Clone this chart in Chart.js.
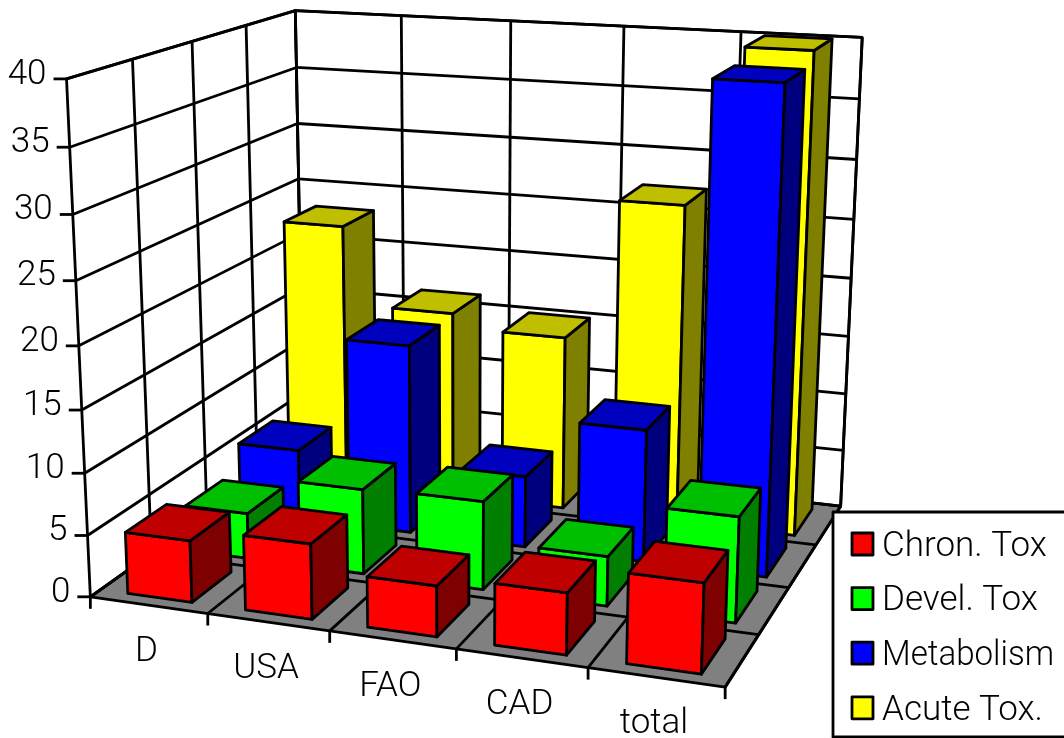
<!DOCTYPE html>
<html>
<head>
<meta charset="utf-8">
<style>
  html, body { margin: 0; padding: 0; background: #fff; }
  #wrap { width: 1064px; height: 738px; }
</style>
<script src="https://cdn.jsdelivr.net/npm/chart.js@4/dist/chart.umd.min.js"></script>
</head>
<body>
<div id="wrap"><canvas id="chart" width="1064" height="738"></canvas></div>
<script>
const categories = ['D', 'USA', 'FAO', 'CAD', 'total'];
const seriesNames = ['Chron. Tox', 'Devel. Tox', 'Metabolism', 'Acute Tox.'];
const chronTox = [5, 6, 4, 4.8, 6.9];
const develTox = [3.8, 7, 7.2, 4, 8.4];
const metabolism = [6, 16, 6, 11, 39];
const acuteTox = [23, 16.2, 15, 27, 40];
const yMax = 40;
const yStep = 5;

const faceColors = [
  ['#ff0000', '#bf0000', '#7f0000'],
  ['#00ff00', '#00bf00', '#007f00'],
  ['#0000ff', '#0000bf', '#00007f'],
  ['#ffff00', '#bfbf00', '#7f7f00']
];

// corners of the plot cube on the page: [across, depth, height, px, py]
const cubeCorners = [
  [0, 0, 0, 91, 595],
  [1, 0, 0, 725, 689],
  [1, 1, 0, 841, 504],
  [0, 1, 0, 303, 447],
  [0, 0, 1, 66, 79],
  [0, 1, 1, 296, 10],
  [1, 1, 1, 862, 38]
];

const barWidth = 0.55;  // part of a category cell
const barDepth = 0.68;  // part of a series row
const barShift = 0.0025;
const fontName = '300 35px Roboto, "Liberation Sans", sans-serif';

// least squares fit of the 3x4 projection, last entry fixed to 1
function fitProjection(points) {
  const n = 11;
  const A = Array.from({ length: n }, () => new Array(n + 1).fill(0));
  const addRow = (row, val) => {
    for (let r = 0; r < n; r++) {
      for (let c = 0; c < n; c++) A[r][c] += row[r] * row[c];
      A[r][n] += row[r] * val;
    }
  };
  points.forEach(([X, Y, Z, px, py]) => {
    const x = px / 1000, y = py / 1000;
    addRow([X, Y, Z, 1, 0, 0, 0, 0, -x * X, -x * Y, -x * Z], x);
    addRow([0, 0, 0, 0, X, Y, Z, 1, -y * X, -y * Y, -y * Z], y);
  });
  for (let i = 0; i < n; i++) {
    let best = i;
    for (let r = i + 1; r < n; r++) if (Math.abs(A[r][i]) > Math.abs(A[best][i])) best = r;
    [A[i], A[best]] = [A[best], A[i]];
    for (let r = 0; r < n; r++) {
      if (r === i) continue;
      const f = A[r][i] / A[i][i];
      for (let c = i; c <= n; c++) A[r][c] -= f * A[i][c];
    }
  }
  return A.map((row, i) => row[n] / row[i]);
}

const P = fitProjection(cubeCorners);

function project(u, v, w) {
  const d = P[8] * u + P[9] * v + P[10] * w + 1;
  return [
    1000 * (P[0] * u + P[1] * v + P[2] * w + P[3]) / d,
    1000 * (P[4] * u + P[5] * v + P[6] * w + P[7]) / d
  ];
}

function poly(ctx, pts, fill) {
  ctx.beginPath();
  pts.forEach((p, i) => i ? ctx.lineTo(p[0], p[1]) : ctx.moveTo(p[0], p[1]));
  ctx.closePath();
  if (fill) { ctx.fillStyle = fill; ctx.fill(); }
  ctx.stroke();
}

function segment(ctx, a, b) {
  ctx.beginPath();
  ctx.moveTo(a[0], a[1]);
  ctx.lineTo(b[0], b[1]);
  ctx.stroke();
}

function drawScene(chart) {
  const ctx = chart.ctx;
  const xs = chart.scales.x, ys = chart.scales.y, zs = chart.scales.z;
  const height = (val) => (ys.bottom - ys.getPixelForValue(val)) / ys.height;
  const across = (i) => (xs.getPixelForValue(i) - xs.left) / xs.width;
  const depth = (j) => (zs.getPixelForValue(j) - zs.left) / zs.width;
  const cellU = 1 / categories.length, cellV = 1 / seriesNames.length;

  ctx.save();
  ctx.strokeStyle = '#000';
  ctx.lineWidth = 2.8;
  ctx.lineJoin = 'round';

  // floor and walls
  poly(ctx, [project(0, 0, 0), project(1, 0, 0), project(1, 1, 0), project(0, 1, 0)], '#808080');
  poly(ctx, [project(0, 0, 0), project(0, 1, 0), project(0, 1, 1), project(0, 0, 1)], '#fff');
  poly(ctx, [project(0, 1, 0), project(1, 1, 0), project(1, 1, 1), project(0, 1, 1)], '#fff');

  // grid
  ys.ticks.forEach((t) => {
    const w = height(t.value);
    segment(ctx, project(0, 0, w), project(0, 1, w));
    segment(ctx, project(0, 1, w), project(1, 1, w));
    const a = project(0, 0, w);
    segment(ctx, [a[0] - 13, a[1]], a);
  });
  for (let i = 0; i <= categories.length; i++) {
    const u = i * cellU;
    segment(ctx, project(u, 0, 0), project(u, 1, 0));
    segment(ctx, project(u, 1, 0), project(u, 1, 1));
    const a = project(u, 0, 0);
    segment(ctx, a, [a[0], a[1] + 12]);
  }
  for (let j = 1; j < seriesNames.length; j++) {
    const v = j * cellV;
    segment(ctx, project(0, v, 0), project(1, v, 0));
    segment(ctx, project(0, v, 0), project(0, v, 1));
  }

  // boxes, back row first
  for (let j = seriesNames.length - 1; j >= 0; j--) {
    const values = chart.data.datasets[j].data;
    values.forEach((val, i) => {
      const u0 = across(i) + barShift - barWidth * cellU / 2, u1 = u0 + barWidth * cellU;
      const v0 = depth(j) - barDepth * cellV / 2, v1 = depth(j) + barDepth * cellV / 2;
      const w = height(val);
      const [front, top, side] = faceColors[j];
      poly(ctx, [project(u0, v0, 0), project(u1, v0, 0), project(u1, v0, w), project(u0, v0, w)], front);
      poly(ctx, [project(u1, v0, 0), project(u1, v1, 0), project(u1, v1, w), project(u1, v0, w)], side);
      poly(ctx, [project(u0, v0, w), project(u1, v0, w), project(u1, v1, w), project(u0, v1, w)], top);
    });
  }

  // axis text
  ctx.fillStyle = '#000';
  ctx.font = fontName;
  ctx.textBaseline = 'middle';
  ctx.textAlign = 'right';
  ys.ticks.forEach((t) => {
    const a = project(0, 0, height(t.value));
    ctx.fillText(t.label, a[0] - 20, a[1] - 4);
  });
  ctx.textAlign = 'center';
  categories.forEach((name, i) => {
    const a = project(across(i), 0, 0);
    ctx.fillText(name, a[0] - 2, a[1] + 47);
  });

  // legend box
  ctx.fillStyle = '#fff';
  ctx.fillRect(833, 512, 240, 225);
  ctx.strokeRect(833, 512, 240, 225);
  ctx.textAlign = 'left';
  seriesNames.forEach((name, j) => {
    const cy = 544 + j * 54.6;
    ctx.fillStyle = faceColors[j][0];
    ctx.fillRect(852, cy - 11, 21, 22);
    ctx.strokeRect(852, cy - 11, 21, 22);
    ctx.fillStyle = '#000';
    ctx.fillText(name, 882, cy + 3, 172);
  });
  ctx.restore();
}

const sceneBars = {
  id: 'sceneBars',
  beforeDraw: drawScene,
  // the flat bars are replaced by the boxes above
  beforeDatasetsDraw: () => false
};

new Chart(document.getElementById('chart'), {
  type: 'bar',
  data: {
    labels: categories,
    datasets: [chronTox, develTox, metabolism, acuteTox].map((data, j) => ({
      label: seriesNames[j],
      data,
      backgroundColor: faceColors[j][0]
    }))
  },
  options: {
    responsive: false,
    animation: false,
    events: [],
    plugins: { legend: { display: false }, tooltip: { enabled: false } },
    scales: {
      x: { display: false, offset: true },
      z: { type: 'category', axis: 'x', labels: seriesNames, display: false, offset: true },
      y: { display: false, min: 0, max: yMax, ticks: { stepSize: yStep } }
    }
  },
  plugins: [sceneBars]
});
</script>
</body>
</html>
